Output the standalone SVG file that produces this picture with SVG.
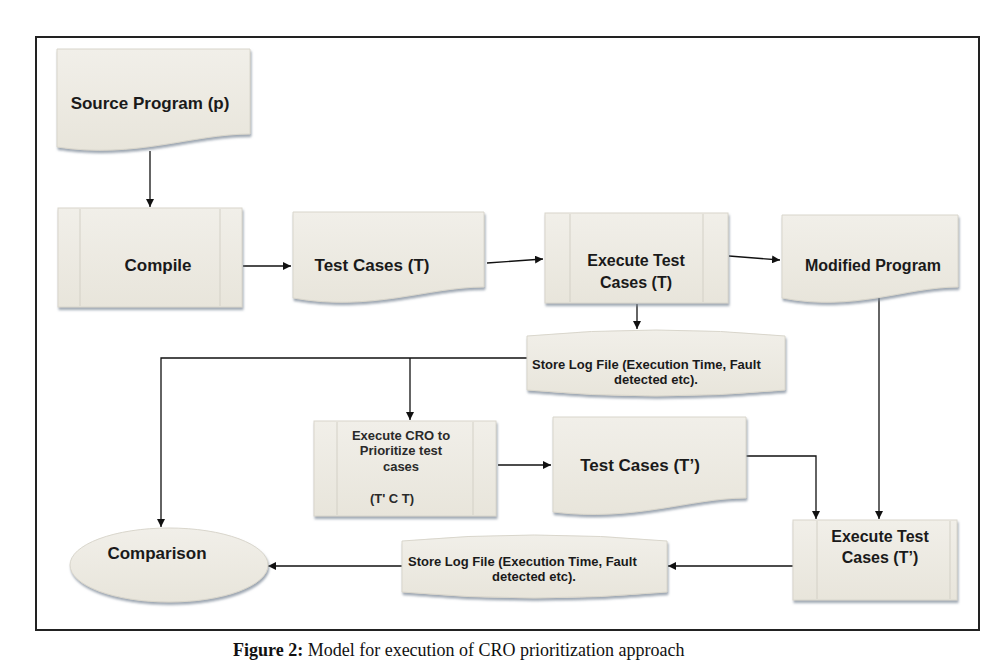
<svg xmlns="http://www.w3.org/2000/svg" width="1003" height="661" viewBox="0 0 1003 661">
<style>
.shape{fill:url(#fillg);stroke:#d9d6cc;stroke-width:1;filter:url(#sh)}
.inner{stroke:#d3d0c6;stroke-width:1;fill:none}
.lbl{font-family:"Liberation Sans",Arial,sans-serif;font-weight:bold;fill:#1a1a1a;text-anchor:middle}
.big{font-size:17px}
.mid{font-size:16px}
.small{font-size:13px}
.cro{font-size:13px;fill:#2a2a2a}
.conn{stroke:#111;stroke-width:1.3;fill:none}
.arr{marker-end:url(#ah)}
</style>
<defs>
<linearGradient id="fillg" x1="0" y1="0" x2="0" y2="1">
<stop offset="0" stop-color="#f1efe9"/>
<stop offset="1" stop-color="#e8e5db"/>
</linearGradient>
<filter id="sh" x="-10%" y="-10%" width="120%" height="130%">
<feDropShadow dx="1" dy="2.5" stdDeviation="1" flood-color="#7f8a99" flood-opacity="0.75"/>
</filter>
<marker id="ah" viewBox="0 0 10 10" refX="10" refY="5" markerWidth="8" markerHeight="8" markerUnits="userSpaceOnUse" orient="auto">
<path d="M0,0 L10,5 L0,10 Z" fill="#111"/>
</marker>
</defs>
<rect x="0" y="0" width="1003" height="661" fill="#fff"/>
<rect id="frame" x="36" y="37" width="943" height="593" fill="none" stroke="#222" stroke-width="2"/>

<g id="connectors">
<line class="conn arr" x1="150" y1="151" x2="150" y2="207"/>
<line class="conn arr" x1="243" y1="266" x2="291" y2="266"/>
<line class="conn arr" x1="487" y1="263" x2="543" y2="259"/>
<line class="conn arr" x1="729" y1="256" x2="780" y2="260"/>
<line class="conn arr" x1="637" y1="304" x2="637" y2="329"/>
<polyline class="conn arr" points="527,358 161,358 161,527"/>
<line class="conn arr" x1="410" y1="358" x2="410" y2="420"/>
<line class="conn arr" x1="498" y1="465" x2="551" y2="465"/>
<polyline class="conn arr" points="746,456 816,456 816,519"/>
<line class="conn arr" x1="879" y1="293" x2="879" y2="519"/>
<line class="conn arr" x1="793" y1="566" x2="668" y2="566"/>
<line class="conn arr" x1="402" y1="566" x2="268" y2="566"/>
</g>

<g id="source">
<path class="shape" d="M57,49 H250 V134 C192,134 135,159 57,147 Z"/>
<text class="lbl big" x="150" y="109">Source Program (p)</text>
</g>

<g id="compile">
<rect class="shape" x="58" y="208" width="184" height="99"/>
<line class="inner" x1="80" y1="209" x2="80" y2="306"/>
<line class="inner" x1="220" y1="209" x2="220" y2="306"/>
<text class="lbl big" x="158" y="271">Compile</text>
</g>

<g id="testcases">
<path class="shape" d="M293,212 H484 V287 C427,287 372,312 293,298 Z"/>
<text class="lbl big" x="372" y="271">Test Cases (T)</text>
</g>

<g id="exec1">
<rect class="shape" x="545" y="213" width="183" height="90"/>
<line class="inner" x1="570" y1="214" x2="570" y2="302"/>
<line class="inner" x1="703" y1="214" x2="703" y2="302"/>
<text class="lbl mid" x="636" y="266">Execute Test</text>
<text class="lbl mid" x="636" y="288">Cases (T)</text>
</g>

<g id="modified">
<path class="shape" d="M782,215 H958 V287 C905,287 855,312 782,298 Z"/>
<text class="lbl mid" x="873" y="271">Modified Program</text>
</g>

<g id="store1">
<path class="shape" d="M527,336 Q656,324 785,336 V390 Q656,402 527,390 Z"/>
<text class="lbl small" x="532" y="369" style="text-anchor:start">Store Log File (Execution Time, Fault</text>
<text class="lbl small" x="656" y="384">detected etc).</text>
</g>

<g id="cro">
<rect class="shape" x="314" y="421" width="182" height="95"/>
<line class="inner" x1="337" y1="422" x2="337" y2="515"/>
<line class="inner" x1="473" y1="422" x2="473" y2="515"/>
<text class="lbl cro" x="401" y="440">Execute CRO to</text>
<text class="lbl cro" x="401" y="455">Prioritize test</text>
<text class="lbl cro" x="401" y="471">cases</text>
<text class="lbl cro" x="392" y="503">(T' C T)</text>
</g>

<g id="testcases2">
<path class="shape" d="M553,417 H746 V498 C690,498 635,522 553,512 Z"/>
<text class="lbl big" x="640" y="471">Test Cases (T’)</text>
</g>

<g id="exec2">
<rect class="shape" x="793" y="520" width="164" height="80"/>
<line class="inner" x1="817" y1="521" x2="817" y2="599"/>
<line class="inner" x1="950" y1="521" x2="950" y2="599"/>
<text class="lbl mid" x="880" y="542">Execute Test</text>
<text class="lbl mid" x="880" y="563">Cases (T’)</text>
</g>

<g id="store2">
<path class="shape" d="M402,541 Q534,529 667,541 V592 Q534,604 402,592 Z"/>
<text class="lbl small" x="408" y="566" style="text-anchor:start">Store Log File (Execution Time, Fault</text>
<text class="lbl small" x="534" y="581">detected etc).</text>
</g>

<g id="comparison">
<ellipse class="shape" cx="169" cy="565" rx="99" ry="37"/>
<text class="lbl big" x="157" y="559">Comparison</text>
</g>

<text x="233" y="656" style="font-family:'Liberation Serif','Times New Roman',serif;font-size:18px;fill:#111"><tspan font-weight="bold">Figure 2:</tspan> Model for execution of CRO prioritization approach</text>
</svg>
